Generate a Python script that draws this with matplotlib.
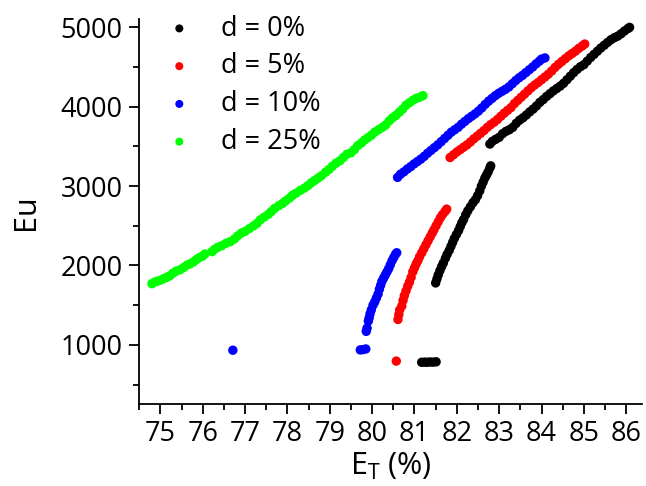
import matplotlib.pyplot as plt
import numpy as np

plt.rcParams['font.family'] = ['Open Sans', 'DejaVu Sans']
plt.rcParams['mathtext.fontset'] = 'custom'
plt.rcParams['mathtext.rm'] = 'Open Sans'

# d = 0%
et_d0 = [81.17, 81.24, 81.30, 81.37, 81.44, 81.51,
         81.50, 81.53, 81.56, 81.60, 81.64, 81.68, 81.73, 81.77, 81.82, 81.86,
         81.90, 81.94, 81.99, 82.04, 82.08, 82.12, 82.16, 82.21, 82.26, 82.32,
         82.38, 82.44, 82.49, 82.54, 82.58, 82.62, 82.66, 82.70, 82.74, 82.78, 82.80,
         82.78, 82.84, 82.92, 83.00, 83.08, 83.16, 83.24, 83.32, 83.40, 83.48,
         83.56, 83.64, 83.72, 83.80, 83.88, 83.96, 84.04, 84.12, 84.20, 84.28,
         84.36, 84.44, 84.52, 84.60, 84.68, 84.76, 84.84, 84.92, 85.00, 85.08,
         85.16, 85.24, 85.32, 85.40, 85.48, 85.56, 85.64, 85.72, 85.80, 85.88,
         85.96, 86.04, 86.08]
eu_d0 = [780, 782, 780, 784, 782, 786,
         1780, 1830, 1880, 1935, 1985, 2030, 2090, 2140, 2190, 2240,
         2290, 2340, 2390, 2440, 2490, 2540, 2580, 2640, 2690, 2740,
         2790, 2830, 2880, 2940, 3000, 3050, 3100, 3140, 3180, 3230, 3255,
         3530, 3565, 3590, 3615, 3660, 3690, 3710, 3740, 3790, 3830,
         3860, 3895, 3935, 3970, 4010, 4055, 4090, 4130, 4165, 4200,
         4230, 4260, 4295, 4340, 4385, 4430, 4470, 4505, 4530, 4575,
         4620, 4660, 4700, 4740, 4775, 4810, 4845, 4870, 4890, 4920,
         4955, 4985, 5000]

# d = 5%
et_d5 = [80.57,
         80.61, 80.63, 80.65, 80.70, 80.73, 80.76, 80.80, 80.84, 80.88, 80.92,
         80.96, 81.00, 81.04, 81.08, 81.12, 81.17, 81.22, 81.27, 81.32, 81.37,
         81.42, 81.46, 81.51, 81.56, 81.61, 81.66, 81.72, 81.76,
         81.84, 81.92, 82.00, 82.08, 82.16, 82.24, 82.32, 82.40, 82.48, 82.56,
         82.64, 82.72, 82.80, 82.88, 82.96, 83.04, 83.12, 83.20, 83.28, 83.36,
         83.44, 83.52, 83.60, 83.68, 83.76, 83.84, 83.92, 84.00, 84.08, 84.16,
         84.24, 84.32, 84.40, 84.48, 84.56, 84.64, 84.72, 84.80, 84.88, 84.96, 85.02]
eu_d5 = [795,
         1320, 1380, 1440, 1490, 1560, 1620, 1680, 1740, 1790, 1850,
         1920, 1970, 2020, 2060, 2110, 2160, 2210, 2260, 2310, 2360,
         2410, 2450, 2500, 2550, 2600, 2640, 2680, 2710,
         3360, 3395, 3430, 3460, 3490, 3520, 3555, 3595, 3630, 3665,
         3700, 3740, 3775, 3805, 3840, 3880, 3920, 3955, 3990, 4040,
         4080, 4120, 4160, 4200, 4240, 4275, 4305, 4340, 4375, 4410,
         4450, 4495, 4535, 4570, 4605, 4640, 4670, 4700, 4735, 4765, 4790]

# d = 10%
et_d10 = [76.71, 79.72, 79.78, 79.85,
          79.86, 79.88, 79.91, 79.93, 79.95, 79.98, 80.02, 80.06, 80.10, 80.14,
          80.17, 80.20, 80.23, 80.27, 80.31, 80.35, 80.39, 80.43, 80.47, 80.51,
          80.55, 80.58,
          80.60, 80.67, 80.75, 80.83, 80.91, 80.99, 81.07, 81.15, 81.23, 81.31,
          81.39, 81.47, 81.55, 81.63, 81.71, 81.79, 81.87, 81.95, 82.03, 82.11,
          82.19, 82.27, 82.35, 82.43, 82.51, 82.59, 82.67, 82.75, 82.83, 82.91,
          82.99, 83.07, 83.15, 83.23, 83.31, 83.39, 83.47, 83.55, 83.63, 83.71,
          83.79, 83.87, 83.95, 84.00, 84.08]
eu_d10 = [932, 936, 940, 948,
          1170, 1210, 1300, 1340, 1390, 1440, 1500, 1540, 1590, 1640,
          1700, 1750, 1800, 1840, 1880, 1920, 1960, 2010, 2060, 2100,
          2140, 2160,
          3110, 3150, 3180, 3215, 3245, 3280, 3310, 3340, 3375, 3415,
          3450, 3485, 3520, 3560, 3600, 3640, 3680, 3710, 3740, 3780,
          3815, 3850, 3880, 3910, 3945, 3985, 4030, 4070, 4105, 4140,
          4170, 4195, 4220, 4250, 4290, 4330, 4365, 4395, 4430, 4465,
          4500, 4540, 4575, 4600, 4615]

# d = 25%
et_d25 = [74.80, 74.86, 74.92, 75.00, 75.08, 75.15, 75.22, 75.30, 75.38, 75.46,
          75.55, 75.63, 75.70, 75.78, 75.85, 75.92, 76.00, 76.05, 76.22, 76.28,
          76.36, 76.45, 76.55, 76.65, 76.75, 76.83, 76.92, 77.00, 77.10, 77.20,
          77.28, 77.36, 77.45, 77.55, 77.62, 77.70, 77.80, 77.88, 77.96, 78.05,
          78.12, 78.20, 78.30, 78.40, 78.48, 78.56, 78.64, 78.72, 78.80, 78.90,
          78.98, 79.06, 79.15, 79.24, 79.32, 79.40, 79.50, 79.58, 79.66, 79.74,
          79.82, 79.90, 79.98, 80.06, 80.15, 80.24, 80.32, 80.40, 80.48, 80.56,
          80.64, 80.72, 80.80, 80.88, 80.96, 81.04, 81.12, 81.20]
eu_d25 = [1770, 1790, 1800, 1815, 1835, 1850, 1870, 1905, 1930, 1945,
          1975, 2005, 2020, 2045, 2075, 2100, 2120, 2145, 2175, 2205,
          2230, 2250, 2280, 2300, 2335, 2375, 2410, 2430, 2465, 2500,
          2530, 2575, 2610, 2645, 2680, 2720, 2755, 2780, 2815, 2850,
          2885, 2910, 2945, 2975, 3005, 3040, 3070, 3100, 3130, 3175,
          3210, 3250, 3290, 3320, 3360, 3400, 3420, 3460, 3510, 3540,
          3580, 3610, 3640, 3680, 3710, 3740, 3770, 3820, 3860, 3890,
          3930, 3970, 4020, 4050, 4080, 4105, 4120, 4140]

series = [(et_d0, eu_d0, 'black', 'd = 0%'),
          (et_d5, eu_d5, 'red', 'd = 5%'),
          (et_d10, eu_d10, 'blue', 'd = 10%'),
          (et_d25, eu_d25, '#00ff00', 'd = 25%')]

fig = plt.figure(figsize=(6.46, 4.86), dpi=100)
ax = fig.add_axes([0.2156, 0.168, 0.778, 0.792])

for xs, ys, col, lab in series:
    ax.scatter(xs, ys, s=46, color=col, edgecolors='none', label=lab)

ax.set_xlim(74.51, 86.37)
ax.set_ylim(250, 5100)
ax.set_xticks(np.arange(75, 87, 1))
ax.set_xticks(np.arange(74.5, 86.5, 0.5), minor=True)
ax.set_yticks([1000, 2000, 3000, 4000, 5000])
ax.set_yticks(np.arange(500, 5100, 500), minor=True)

for s in ['top', 'right']:
    ax.spines[s].set_visible(False)
for s in ['left', 'bottom']:
    ax.spines[s].set_linewidth(1.3)

ax.tick_params(which='major', direction='out', length=7, width=1.3, labelsize=19.5, pad=4)
ax.tick_params(which='minor', direction='out', length=4, width=1.3)
ax.tick_params(axis='y', pad=5)

ax.set_xlabel(r'E$_\mathregular{T}$ (%)', fontsize=22, labelpad=2)
ax.set_ylabel('Eu', fontsize=22, labelpad=14)

ax.legend(loc='upper left', bbox_to_anchor=(0.015, 1.062), frameon=False,
          fontsize=19.5, markerscale=0.85, handletextpad=1.05, labelspacing=0.36,
          borderpad=0.2, handlelength=1.0)

fig.savefig('out.png', dpi=100)
